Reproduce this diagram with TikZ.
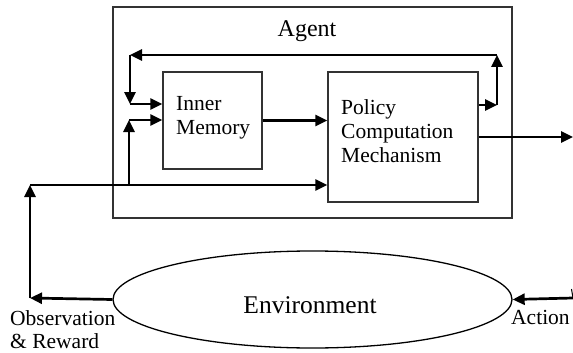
\documentclass[tikz,border=0pt]{standalone}
\usepackage{fontspec}
\setmainfont{Liberation Serif}
\usetikzlibrary{arrows.meta,shapes.geometric}

\tikzset{
  boxed/.style={draw=black!80, line width=1.5pt, rectangle, inner sep=0pt},
  flow/.style={line width=2.7pt, -{Triangle[length=12pt,width=11pt]}},
  label/.style={inner sep=0pt, align=left, font=\fontsize{21.5}{23}\selectfont},
}

\begin{document}
\begin{tikzpicture}[x=1pt, y=-1pt]
  \useasboundingbox (0,0) rectangle (573,353);

  % agent frame and its inner blocks
  \node[boxed, minimum width=399pt, minimum height=211pt] (agent) at (312.5,112.5) {};
  \node[inner sep=0pt, anchor=base, font=\fontsize{24}{26}\selectfont] (agentlbl) at (307,37) {Agent};
  \node[boxed, minimum width=99pt, minimum height=97pt] (mem) at (212.5,120.5) {};
  \node[label, anchor=north west, font=\fontsize{21.5}{24}\selectfont] (memlbl) at (176,96) {Inner\\Memory};
  \node[boxed, minimum width=150pt, minimum height=130pt] (pcm) at (403,137) {};
  \node[label, anchor=north west, font=\fontsize{21.5}{24}\selectfont] (pcmlbl) at (341,99) {Policy\\Computation\\Mechanism};

  % environment
  \node[draw, ellipse, line width=1.3pt, minimum width=399pt, minimum height=97pt, inner sep=0pt] (env) at (312.5,299.5) {};
  \node[inner sep=0pt, anchor=base, font=\fontsize{25.5}{28}\selectfont] (envlbl) at (310,313) {Environment};

  % corner points of the routed connectors
  \coordinate (fbR)  at (497,105);
  \coordinate (fbTR) at (497,55);
  \coordinate (fbTL) at (130,55);
  \coordinate (fbBL) at (130,104);
  \coordinate (obsB) at (30,298);
  \coordinate (obsT) at (30,185);
  \coordinate (brB)  at (129,185);
  \coordinate (brT)  at (129,120);
  \coordinate (outR) at (573,137);
  \coordinate (actR) at (573,298);
  \coordinate (actT) at (571.5,289);

  % feedback loop from the policy back into memory
  \draw[flow] (pcm.east |- fbR) -- (fbR);
  \draw[flow] (fbR) -- (fbTR);
  \draw[flow] (fbTR) -- (fbTL);
  \draw[flow] (fbTL) -- (fbBL);
  \draw[flow] (fbBL) -- (mem.west |- fbBL);

  % memory to policy
  \draw[flow] (mem.east) -- (pcm.west |- mem.east);

  % observation path from the environment
  \draw[flow] (env.west) -- (obsB);
  \draw[flow] (obsB) -- (obsT);
  \draw[flow] (obsT) -- (pcm.west |- obsT);
  \draw[flow] (brB) -- (brT);
  \draw[flow] (brT) -- (mem.west |- brT);

  % action output
  \draw[flow] (pcm.east) -- (outR);
  \draw[line width=1pt] (actT) -- (actR);
  \draw[flow] (actR) -- (env.east);

  % side labels
  \node[label, anchor=north west] (obslbl) at (10,310) {Observation\\\& Reward};
  \node[label, anchor=north west] (actlbl) at (511,310) {Action};
\end{tikzpicture}
\end{document}
